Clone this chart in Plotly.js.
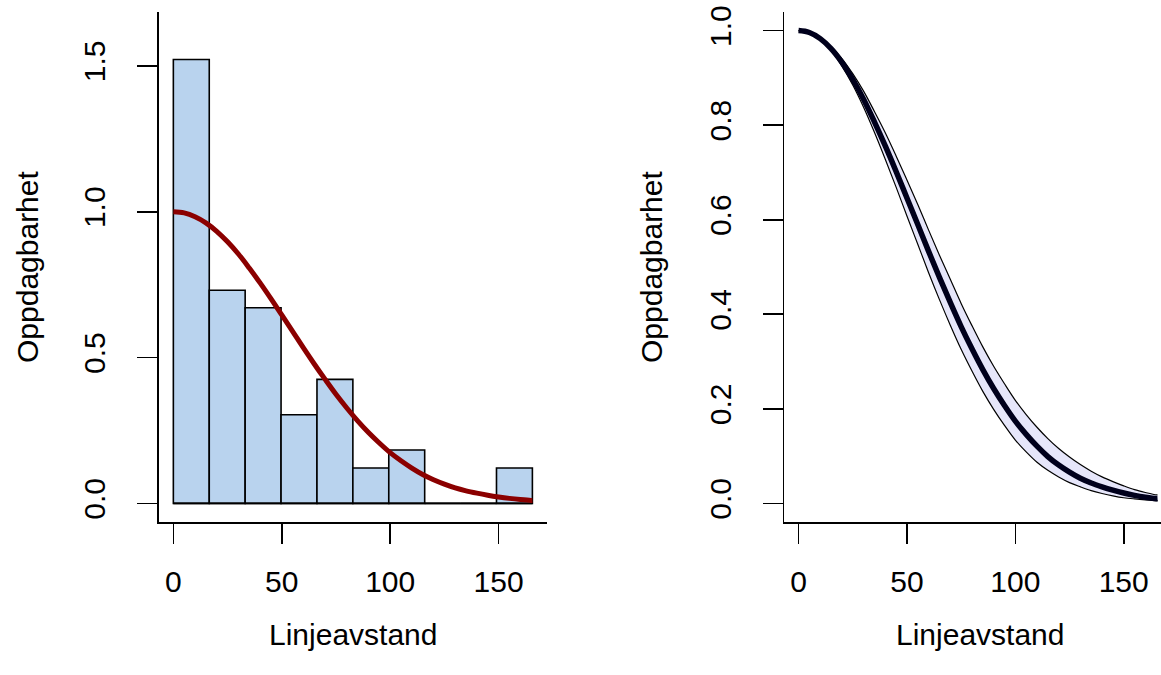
<!DOCTYPE html>
<html><head><meta charset="utf-8">
<script src="https://cdn.plot.ly/plotly-3.0.1.min.js"></script>
<style>html,body{margin:0;padding:0;background:#fff}#chart{width:1161px;height:675px}</style>
</head><body><div id="chart"></div>
<script>
// Histogram (left panel)
const breaks = [0, 16.56, 33.12, 49.68, 66.24, 82.8, 99.36, 115.92, 132.48, 149.04, 165.6];
const density = [1.522, 0.731, 0.671, 0.304, 0.425, 0.121, 0.183, 0, 0, 0.121];
// Fitted detection function
const fitX = [0,5,10,15,20,25,30,35,40,45,50,55,60,65,70,75,80,85,90,95,100,105,110,115,120,125,130,135,140,145,150,155,160,165,165.6];
const fitY = [1.000,0.996,0.983,0.962,0.933,0.897,0.855,0.807,0.756,0.702,0.646,0.590,0.533,0.478,0.425,0.374,0.327,0.283,0.243,0.207,0.174,0.146,0.121,0.099,0.081,0.066,0.053,0.043,0.035,0.028,0.022,0.017,0.013,0.010,0.010];
// Confidence band (right panel)
const bandUpper = [1.000,0.9965,0.985,0.966,0.941,0.909,0.872,0.829,0.784,0.735,0.684,0.632,0.578,0.525,0.474,0.423,0.376,0.331,0.290,0.253,0.218,0.188,0.161,0.137,0.116,0.098,0.082,0.068,0.056,0.046,0.037,0.029,0.023,0.018,0.018];
const bandLower = [1.000,0.9955,0.981,0.958,0.925,0.885,0.838,0.785,0.728,0.669,0.608,0.548,0.488,0.431,0.377,0.326,0.280,0.237,0.199,0.165,0.134,0.109,0.087,0.070,0.056,0.044,0.035,0.027,0.021,0.016,0.012,0.0095,0.0075,0.006,0.006];
const xTicks = [0, 50, 100, 150];
const yTicksLeft = [0, 0.5, 1.0, 1.5];
const yTicksRight = [0, 0.2, 0.4, 0.6, 0.8, 1.0];
const xLabel = 'Linjeavstand';
const yLabel = 'Oppdagbarhet';

const W = 1161, H = 675;
const FONT = 'Liberation Sans, Arial, Helvetica, sans-serif';
const FS = 30;
const mids = density.map((d, i) => (breaks[i] + breaks[i + 1]) / 2);
const widths = density.map((d, i) => breaks[i + 1] - breaks[i]);

const traces = [
  {type: 'bar', x: mids, y: density, width: widths, xaxis: 'x', yaxis: 'y',
   marker: {color: '#B9D3EE', line: {color: '#000', width: 1.6}}, hoverinfo: 'skip'},
  {type: 'scatter', mode: 'lines', x: [breaks[0], breaks[breaks.length - 1]], y: [0, 0], xaxis: 'x', yaxis: 'y',
   line: {color: '#000', width: 1.6}, hoverinfo: 'skip'},
  {type: 'scatter', mode: 'lines', x: fitX, y: fitY, xaxis: 'x', yaxis: 'y',
   line: {color: '#8B0000', width: 5, shape: 'spline'}, hoverinfo: 'skip'},
  {type: 'scatter', mode: 'lines', x: fitX, y: bandLower, xaxis: 'x2', yaxis: 'y2',
   line: {color: '#000', width: 1.2, shape: 'spline'}, hoverinfo: 'skip'},
  {type: 'scatter', mode: 'lines', x: fitX, y: bandUpper, xaxis: 'x2', yaxis: 'y2', fill: 'tonexty', fillcolor: '#E6E6FA',
   line: {color: '#000', width: 1.2, shape: 'spline'}, hoverinfo: 'skip'},
  {type: 'scatter', mode: 'lines', x: fitX, y: fitY, xaxis: 'x2', yaxis: 'y2',
   line: {color: '#00001c', width: 5.5, shape: 'spline'}, hoverinfo: 'skip'}
];

const axBase = {showline: true, linecolor: '#000', linewidth: 1.6, ticks: 'outside', ticklen: 20, tickwidth: 1.6,
  tickcolor: '#000', showgrid: false, zeroline: false, fixedrange: true,
  tickfont: {family: FONT, size: FS, color: '#000'}};
const yDom = [1 - 522.3 / H, 1 - 11.7 / H];

const layout = {
  width: W, height: H, margin: {l: 0, r: 0, t: 0, b: 0}, showlegend: false,
  paper_bgcolor: '#fff', plot_bgcolor: '#fff',
  font: {family: FONT, size: FS, color: '#000'},
  xaxis: Object.assign({}, axBase, {domain: [159 / W, 546.7 / W], range: [-6.62, 172.2], tickvals: xTicks, anchor: 'y', ticklabelstandoff: 12}),
  yaxis: Object.assign({}, axBase, {domain: yDom, range: [-0.065, 1.686], tickvals: yTicksLeft,
    ticktext: yTicksLeft.map(v => v.toFixed(1)), tickangle: -90, anchor: 'x', ticklabelstandoff: 20}),
  xaxis2: Object.assign({}, axBase, {domain: [784.2 / W, 1], range: [-6.62, 167.2], tickvals: xTicks, anchor: 'y2', ticklabelstandoff: 12}),
  yaxis2: Object.assign({}, axBase, {domain: yDom, range: [-0.04, 1.04], tickvals: yTicksRight,
    ticktext: yTicksRight.map(v => v.toFixed(1)), tickangle: -90, anchor: 'x2', ticklabelstandoff: 20}),
  annotations: [
    {text: xLabel, xref: 'paper', yref: 'paper', x: 352.9 / W, y: 1 - 634 / H, xanchor: 'center', yanchor: 'middle', showarrow: false, font: {size: FS}},
    {text: xLabel, xref: 'paper', yref: 'paper', x: 979.6 / W, y: 1 - 634 / H, xanchor: 'center', yanchor: 'middle', showarrow: false, font: {size: FS}},
    {text: yLabel, xref: 'paper', yref: 'paper', x: 27 / W, y: 1 - 267 / H, xanchor: 'center', yanchor: 'middle', textangle: -90, showarrow: false, font: {size: FS}},
    {text: yLabel, xref: 'paper', yref: 'paper', x: 651 / W, y: 1 - 267 / H, xanchor: 'center', yanchor: 'middle', textangle: -90, showarrow: false, font: {size: FS}}
  ]
};

Plotly.newPlot('chart', traces, layout, {displayModeBar: false, staticPlot: true});
</script></body></html>
